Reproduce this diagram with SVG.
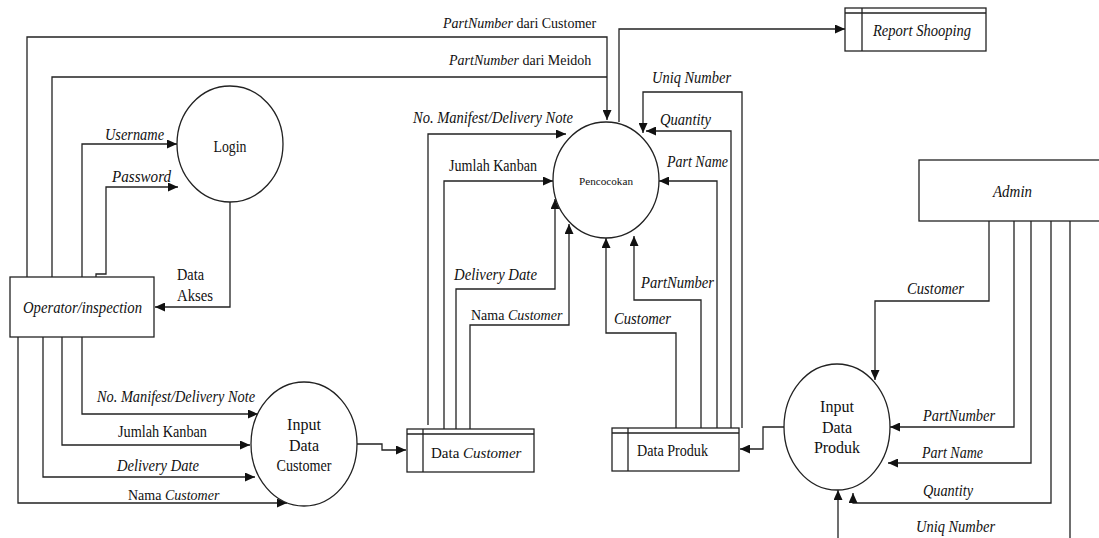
<svg xmlns="http://www.w3.org/2000/svg" width="1099" height="538" viewBox="0 0 1099 538">
<style>
.ln{fill:none;stroke:#222;stroke-width:1.3}
.arr{marker-end:url(#ah)}
.sh{fill:#fff;stroke:#222;stroke-width:1.3}
text{font-family:"Liberation Serif","Times New Roman",serif;font-size:16px;fill:#111}
.i{font-style:italic}
.c{text-anchor:middle}
.s14{font-size:14px}
</style>
<defs>
<marker id="ah" markerUnits="userSpaceOnUse" markerWidth="11" markerHeight="9" refX="10" refY="4.5" orient="auto">
<path d="M0,0 L10,4.5 L0,9 z" fill="#111"/>
</marker>
</defs>
<rect width="1099" height="538" fill="#fff"/>
<g id="connectors">
<path class="ln arr" d="M27,277 V37 H607 V120"/>
<path class="ln" d="M52,277 V77 H607"/>
<path class="ln arr" d="M82,277 V144 H177"/>
<path class="ln arr" d="M96,277 V274 H106 V187 H178"/>
<path class="ln arr" d="M230,202 V307 H155"/>
<path class="ln arr" d="M82,337 V414 H258"/>
<path class="ln arr" d="M62,337 V445 H250"/>
<path class="ln arr" d="M43,337 V477 H255"/>
<path class="ln arr" d="M18,337 V503 H287"/>
<path class="ln arr" d="M357,444 H382 V450 H406"/>
<path class="ln arr" d="M428,425 V134 H566"/>
<path class="ln arr" d="M444,429 V181 H553"/>
<path class="ln arr" d="M456,429 V289 H555 V199"/>
<path class="ln arr" d="M470,429 V325 H569 V224"/>
<path class="ln arr" d="M619,122 V29 H845"/>
<path class="ln arr" d="M742,428 V92 H643 V133"/>
<path class="ln arr" d="M731,428 V131 H646"/>
<path class="ln arr" d="M717,428 V181 H659"/>
<path class="ln arr" d="M701,428 V300 H634 V236"/>
<path class="ln arr" d="M676,428 V333 H606 V238"/>
<path class="ln arr" d="M785,427 H763 V449 H740"/>
<path class="ln arr" d="M989,221 V301 H875 V380"/>
<path class="ln arr" d="M1014,221 V427 H890"/>
<path class="ln arr" d="M1031,221 V463 H888"/>
<path class="ln arr" d="M1051,221 V503 H853 V493"/>
<path class="ln arr" d="M1070,221 V545 H838 V490"/>
</g>
<g id="labels">
<text class="s14" x="443" y="28"><tspan class="i">PartNumber</tspan> dari Customer</text>
<text class="s14" x="449" y="65"><tspan class="i">PartNumber</tspan> dari Meidoh</text>
<text class="i" x="105" y="140" textLength="59" lengthAdjust="spacingAndGlyphs">Username</text>
<text class="i" x="112" y="182" textLength="59" lengthAdjust="spacingAndGlyphs">Password</text>
<text x="177" y="280" textLength="27" lengthAdjust="spacingAndGlyphs">Data</text>
<text x="177" y="301" textLength="36" lengthAdjust="spacingAndGlyphs">Akses</text>
<text class="i" x="97" y="402" textLength="158" lengthAdjust="spacingAndGlyphs">No. Manifest/Delivery Note</text>
<text x="118" y="437" textLength="89" lengthAdjust="spacingAndGlyphs">Jumlah Kanban</text>
<text class="i" x="117" y="471" textLength="82" lengthAdjust="spacingAndGlyphs">Delivery Date</text>
<text class="s14" x="128" y="500">Nama <tspan class="i">Customer</tspan></text>
<text class="i" x="413" y="123" textLength="160" lengthAdjust="spacingAndGlyphs">No. Manifest/Delivery Note</text>
<text x="449" y="171" textLength="88" lengthAdjust="spacingAndGlyphs">Jumlah Kanban</text>
<text class="i" x="454" y="280" textLength="83" lengthAdjust="spacingAndGlyphs">Delivery Date</text>
<text class="s14" x="471" y="320">Nama <tspan class="i">Customer</tspan></text>
<text class="i" x="652" y="83" textLength="79" lengthAdjust="spacingAndGlyphs">Uniq Number</text>
<text class="i" x="660" y="125" textLength="51" lengthAdjust="spacingAndGlyphs">Quantity</text>
<text class="i" x="667" y="167" textLength="61" lengthAdjust="spacingAndGlyphs">Part Name</text>
<text class="i" x="641" y="288" textLength="73" lengthAdjust="spacingAndGlyphs">PartNumber</text>
<text class="i" x="614" y="324" textLength="57" lengthAdjust="spacingAndGlyphs">Customer</text>
<text class="i" x="907" y="294" textLength="57" lengthAdjust="spacingAndGlyphs">Customer</text>
<text class="i" x="923" y="421" textLength="72" lengthAdjust="spacingAndGlyphs">PartNumber</text>
<text class="i" x="922" y="458" textLength="61" lengthAdjust="spacingAndGlyphs">Part Name</text>
<text class="i" x="923" y="496" textLength="50" lengthAdjust="spacingAndGlyphs">Quantity</text>
<text class="i" x="916" y="532" textLength="79" lengthAdjust="spacingAndGlyphs">Uniq Number</text>
</g>
<g id="login">
<ellipse class="sh" cx="230" cy="144" rx="53" ry="58"/>
<text class="c" x="230" y="152" textLength="33" lengthAdjust="spacingAndGlyphs">Login</text>
</g>
<g id="operator">
<rect class="sh" x="10" y="277" width="144" height="60"/>
<text class="i" x="23" y="313" textLength="119" lengthAdjust="spacingAndGlyphs">Operator/inspection</text>
</g>
<g id="input-data-customer">
<ellipse class="sh" cx="304" cy="444" rx="53" ry="62"/>
<text class="c" x="304" y="430">Input</text>
<text class="c" x="304" y="451">Data</text>
<text class="c" x="304" y="471" textLength="55" lengthAdjust="spacingAndGlyphs">Customer</text>
</g>
<g id="data-customer">
<rect class="sh" x="407" y="429" width="127" height="43"/>
<path class="ln" d="M407,434 H534 M423,429 V472"/>
<text x="431" y="458" style="font-size:15px">Data <tspan class="i">Customer</tspan></text>
</g>
<g id="pencocokan">
<ellipse class="sh" cx="606" cy="180" rx="53" ry="58"/>
<text class="c" x="606" y="185" style="font-size:11px" textLength="54" lengthAdjust="spacingAndGlyphs">Pencocokan</text>
</g>
<g id="report-shooping">
<rect class="sh" x="845" y="8" width="141" height="43"/>
<path class="ln" d="M845,13 H986 M862,8 V51"/>
<text class="i" x="873" y="36" textLength="98" lengthAdjust="spacingAndGlyphs">Report Shooping</text>
</g>
<g id="data-produk">
<rect class="sh" x="612" y="428" width="127" height="43"/>
<path class="ln" d="M612,433 H739 M628,428 V471"/>
<text x="637" y="456" textLength="71" lengthAdjust="spacingAndGlyphs">Data Produk</text>
</g>
<g id="input-data-produk">
<ellipse class="sh" cx="837" cy="427" rx="53" ry="63"/>
<text class="c" x="837" y="412">Input</text>
<text class="c" x="837" y="433">Data</text>
<text class="c" x="837" y="453">Produk</text>
</g>
<g id="admin">
<rect class="sh" x="919" y="160" width="190" height="61"/>
<text class="i" x="993" y="197" textLength="39" lengthAdjust="spacingAndGlyphs">Admin</text>
</g>
</svg>
